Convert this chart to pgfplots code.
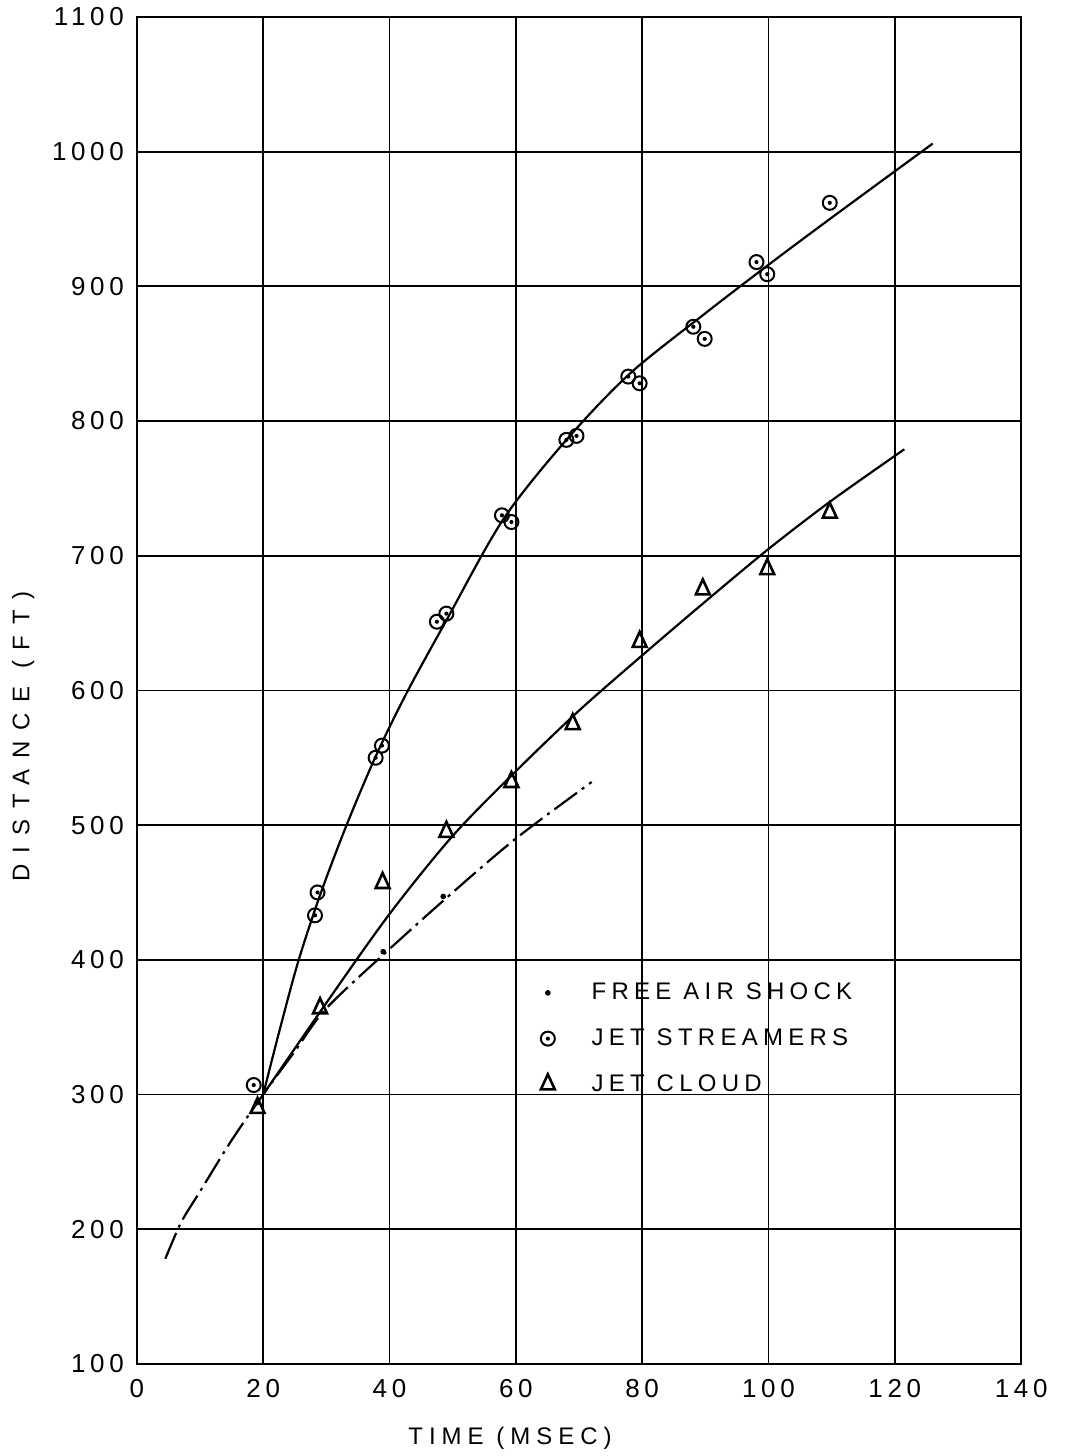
\documentclass[border=0pt]{standalone}
\usepackage{fontspec}
\setmainfont{Liberation Sans}
\newfontfamily\tkf[LetterSpace=18]{Liberation Sans}
\newfontfamily\lgf[LetterSpace=22]{Liberation Sans}
\newfontfamily\xlf[LetterSpace=25]{Liberation Sans}
\newfontfamily\ylf[LetterSpace=45]{Liberation Sans}
\usepackage{pgfplots}
\pgfplotsset{compat=1.18}

% circle with a dot in the middle, as on the original sheet
\pgfdeclareplotmark{odot}{%
  \pgfpathcircle{\pgfpoint{0pt}{0pt}}{\pgfplotmarksize}\pgfusepathqstroke
  \pgfpathcircle{\pgfpoint{0pt}{0pt}}{0.3\pgfplotmarksize}\pgfusepathqfill}

\begin{document}
\begin{tikzpicture}
  \begin{axis}[
    scale only axis,
    width=442.5pt, height=674pt,
    xmin=0, xmax=140, ymin=100, ymax=1100,
    xtick distance=20, ytick distance=100,
    grid=major,
    grid style={line width=0.9pt, draw=black},
    axis line style={line width=1.2pt},
    major tick length=0pt,
    /pgf/number format/assume math mode=true,
    /pgf/number format/set thousands separator={},
    tick label style={font=\fontsize{13}{14}\tkf},
    xticklabel style={yshift=-4pt},
    yticklabel style={xshift=-3pt},
    xlabel={TIME (MSEC)},
    ylabel={DISTANCE (FT)},
    xlabel style={font=\fontsize{12}{13}\xlf, at={(ticklabel cs:0.422)}, yshift=-8pt},
    ylabel style={font=\fontsize{12}{13}\ylf, at={(ticklabel cs:0.466)}, yshift=2pt},
    legend style={draw=none, fill=none, at={(rel axis cs:0.445,0.286)}, anchor=north west,
      font=\fontsize{12}{13}\lgf, row sep=9pt, inner sep=0pt},
    legend cell align=left,
    legend image code/.code={%
      \path[draw=none, fill=none] (0cm,0cm) -- (1.0cm,0cm);
      \draw[#1, only marks] plot coordinates {(0.3cm,0cm)};},
  ]
    % fitted curves
    \addplot[line width=1.1pt, smooth, forget plot,
      dash pattern=on 14pt off 3pt on 1.5pt off 3pt] coordinates {
      (4.5,178) (7,205) (10,228) (15,266) (20,300) (25,332) (30,364)
      (40,408) (50,450) (60,490) (72,532)};
    \addplot[line width=1.1pt, smooth, forget plot] coordinates {
      (20,300) (22.5,346) (25.5,398) (29,448) (33.2,500) (37.9,552)
      (42.7,598) (49,652) (58,727) (68,786) (78,835) (90,880) (100,916)
      (110,951) (126,1006)};
    \addplot[line width=1.1pt, smooth, forget plot] coordinates {
      (20,300) (30,368) (40,434) (50,492) (60,540) (70,585) (80,626)
      (90,666) (100,705) (110,741) (121.5,779)};

    % observations
    \addplot[only marks, mark=*, mark size=1.2pt] coordinates {
      (19,294) (39,406) (48.5,447)};
    \addlegendentry{FREE AIR SHOCK}
    \addplot[only marks, mark=odot, mark size=3.5pt, mark options={line width=1pt}] coordinates {
      (18.5,307) (28.6,450) (28.2,433) (37.8,550) (38.8,559) (47.5,651)
      (49,657) (57.8,730) (59.3,725) (68,786) (69.6,789) (77.8,833)
      (79.6,828) (88.1,870) (89.9,861) (98.1,918) (99.8,909) (109.7,962)};
    \addlegendentry{JET STREAMERS}
    \addplot[only marks, mark=triangle, mark size=5pt,
      mark options={line width=1.3pt, xscale=0.8}] coordinates {
      (19.1,290) (29,364) (38.9,457) (49,495) (59.3,532) (69,575)
      (79.6,636) (89.6,675) (99.8,690) (109.7,732)};
    \addlegendentry{JET CLOUD}
  \end{axis}
  \path ([shift={(-68.5pt,-45.5pt)}]current axis.south west)
    rectangle ([shift={(21.5pt,8.5pt)}]current axis.north east);
\end{tikzpicture}
\end{document}
